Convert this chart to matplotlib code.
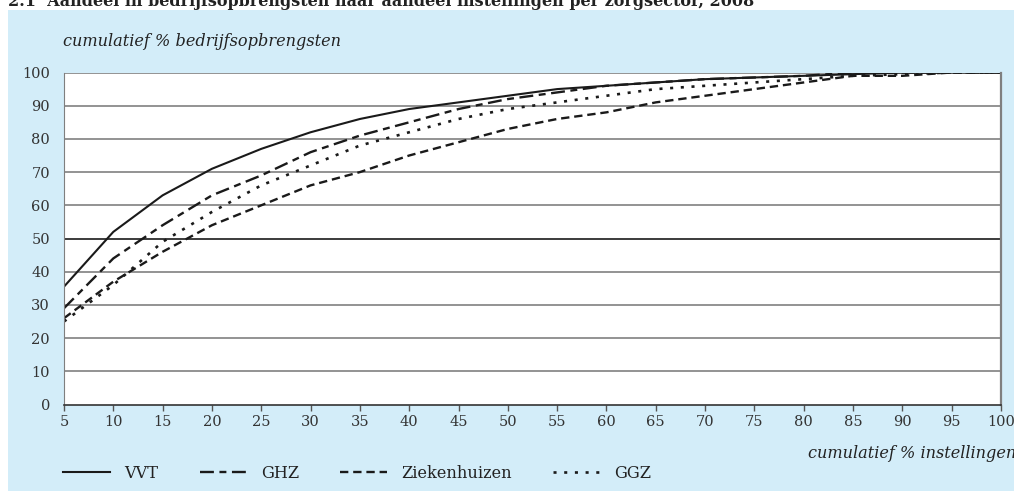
import matplotlib
matplotlib.use("Agg")
import matplotlib.pyplot as plt
from matplotlib.patches import Rectangle

plt.rcParams['font.family'] = ['DejaVu Serif']
plt.rcParams['lines.scale_dashes'] = False

# Data
pct_instellingen = [5, 10, 15, 20, 25, 30, 35, 40, 45, 50, 55, 60, 65, 70, 75, 80, 85, 90, 95, 100]
vvt = [35.5, 52, 63, 71, 77, 82, 86, 89, 91, 93, 95, 96, 97, 98, 98.5, 99, 99.5, 100, 100, 100]
ghz = [29, 44, 54, 63, 69, 76, 81, 85, 89, 92, 94, 96, 97, 98, 98.5, 99, 100, 100, 100, 100]
ziekenhuizen = [26, 37, 46, 54, 60, 66, 70, 75, 79, 83, 86, 88, 91, 93, 95, 97, 99, 99, 100, 100]
ggz = [25, 36, 49, 58, 66, 72, 78, 82, 86, 89, 91, 93, 95, 96, 97, 98, 99, 99.5, 100, 100]
series_names = ['VVT', 'GHZ', 'Ziekenhuizen', 'GGZ']
yticks = list(range(0, 101, 10))

W, H = 1014, 491
fig = plt.figure(figsize=(W / 100, H / 100), dpi=100)
bg = '#d3edf9'
fig.patches.append(Rectangle((8 / W, 0), 1 - 8 / W, 1 - 10 / H, transform=fig.transFigure,
                             facecolor=bg, edgecolor='none', zorder=-10))

ax = fig.add_axes([64 / W, (H - 404.5) / H, (1001 - 64) / W, (404.5 - 72.5) / H])
ax.set_facecolor('white')

styles = [
    dict(linestyle='-', linewidth=1.5),
    dict(linestyle=(0, (10, 4, 5, 4)), linewidth=1.7),
    dict(linestyle=(0, (6, 3.5)), linewidth=1.7),
    dict(linestyle=(0, (2.2, 5.5)), linewidth=1.9),
]
lines = []
for name, vals, st in zip(series_names, [vvt, ghz, ziekenhuizen, ggz], styles):
    ln, = ax.plot(pct_instellingen, vals, color='#1a1a1a', label=name, **st)
    lines.append(ln)

ax.set_xlim(5, 100)
ax.set_ylim(0, 100)
ax.set_xticks(pct_instellingen)
ax.set_yticks(yticks)
for y in yticks[1:]:
    ax.axhline(y, color='#1a1a1a' if y == 50 else '#808080', linewidth=1.2, zorder=0)

ax.spines['top'].set_visible(False)
ax.spines['left'].set_color('#7f7f7f')
ax.spines['right'].set_color('#7f7f7f')
ax.spines['right'].set_linewidth(1.6)
ax.spines['bottom'].set_color('#333333')
ax.spines['bottom'].set_linewidth(1.2)
ax.tick_params(axis='y', length=0, pad=10, labelsize=10.5, labelcolor='#333333')
ax.tick_params(axis='x', length=4, width=1, direction='out', pad=3.5, labelsize=10.5,
               colors='#555555', labelcolor='#333333')

fig.text(63 / W, 1 - 42 / H, 'cumulatief % bedrijfsopbrengsten', style='italic', fontsize=11.6,
         color='#222222', ha='left', va='center')
fig.text(1016 / W, 1 - 453 / H, 'cumulatief % instellingen', style='italic', fontsize=11.6,
         color='#222222', ha='right', va='center')
fig.text(8 / W, 1 - 6 / H, '2.1  Aandeel in bedrijfsopbrengsten naar aandeel instellingen per zorgsector, 2008',
         fontsize=11.5, fontweight='bold', color='#222222', ha='left', va='baseline')

fs = 11.6
px = fs * 100 / 72
leg_x = [63, 200, 340, 553]
for ln, x in zip(lines, leg_x):
    leg = fig.legend(handles=[ln], loc='center left', bbox_to_anchor=(x / W, 1 - 473 / H),
                     frameon=False, fontsize=fs, handlelength=47 / px, handletextpad=14 / px,
                     borderpad=0, borderaxespad=0)
    for t in leg.get_texts():
        t.set_color('#222222')

fig.savefig('out.png', dpi=100, facecolor='white')
